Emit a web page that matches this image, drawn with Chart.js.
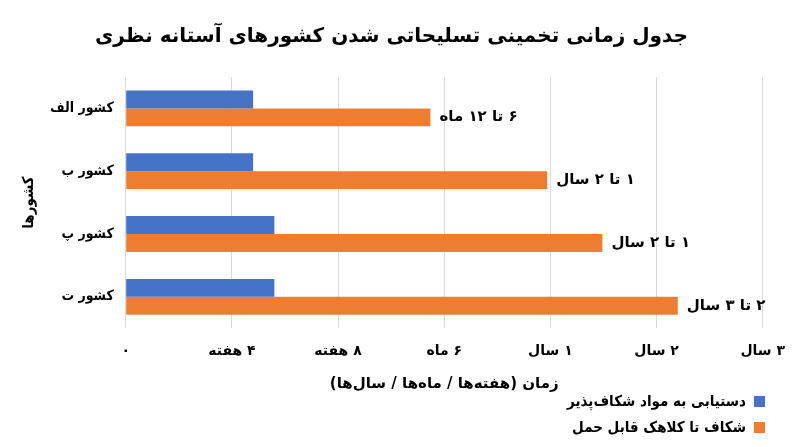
<!DOCTYPE html>
<html lang="fa">
<head>
<meta charset="utf-8">
<script src="https://cdn.jsdelivr.net/npm/chart.js@4.4.1/dist/chart.umd.min.js"></script>
<style>
  html, body { margin: 0; padding: 0; background: #fff; }
  #wrap { position: relative; width: 800px; height: 447px; }
  canvas { direction: rtl; }
  #legend {
    position: absolute; right: 35px; top: 388px;
    direction: rtl; font: bold 15px "DejaVu Sans Condensed", "DejaVu Sans", sans-serif; color: #000;
  }
  #legend div { display: flex; align-items: center; height: 26px; }
  #legend span.box { width: 11px; height: 11px; margin-left: 8px; display: inline-block; }
</style>
</head>
<body>
<div id="wrap">
  <canvas id="timelineChart" width="800" height="447"></canvas>
  <div id="legend"></div>
</div>
<script>
const categories = ["کشور الف", "کشور ب", "کشور پ", "کشور ت"];
const materialValues = [1.2, 1.2, 1.4, 1.4];
const warheadValues = [2.87, 3.97, 4.49, 5.2];
const warheadLabels = ["۶ تا ۱۲ ماه", "۱ تا ۲ سال", "۱ تا ۲ سال", "۲ تا ۳ سال"];
const tickLabels = ["۰", "۴ هفته", "۸ هفته", "۶ ماه", "۱ سال", "۲ سال", "۳ سال"];
const seriesNames = ["دستیابی به مواد شکاف‌پذیر", "شکاف تا کلاهک قابل حمل"];
const seriesColors = ["#4472C4", "#ED7D31"];

const FONT = "'DejaVu Sans', sans-serif";
const NARROW = "'DejaVu Sans Condensed', 'DejaVu Sans', sans-serif";

// labels at the end of the orange bars
const barLabelPlugin = {
  id: "barLabels",
  afterDatasetsDraw(chart) {
    const ctx = chart.ctx;
    const meta = chart.getDatasetMeta(1);
    ctx.save();
    ctx.font = "bold 15px " + FONT;
    ctx.fillStyle = "#000";
    ctx.textAlign = "left";
    ctx.textBaseline = "middle";
    meta.data.forEach((bar, i) => {
      ctx.fillText(warheadLabels[i], bar.x + 9, bar.y);
    });
    ctx.restore();
  },
};

const ctx = document.getElementById("timelineChart");
new Chart(ctx, {
  type: "bar",
  data: {
    labels: categories,
    datasets: [
      {
        label: seriesNames[0],
        data: materialValues,
        backgroundColor: seriesColors[0],
        barPercentage: 1,
        categoryPercentage: 0.57,
      },
      {
        label: seriesNames[1],
        data: warheadValues,
        backgroundColor: seriesColors[1],
        barPercentage: 1,
        categoryPercentage: 0.57,
      },
    ],
  },
  options: {
    indexAxis: "y",
    responsive: false,
    animation: false,
    devicePixelRatio: 1,
    layout: { padding: { left: 20, right: 37, top: 0, bottom: 54 } },
    plugins: {
      legend: { display: false },
      tooltip: { enabled: false },
      title: {
        display: true,
        text: "جدول زمانی تخمینی تسلیحاتی شدن کشورهای آستانه نظری",
        color: "#000",
        font: { family: FONT, size: 20, weight: "bold" },
        padding: { top: 25, bottom: 28 },
      },
    },
    scales: {
      x: {
        min: 0,
        max: 6,
        ticks: {
          stepSize: 1,
          color: "#000",
          font: { family: FONT, size: 14, weight: "bold" },
          padding: 15,
          callback: (v) => tickLabels[v],
        },
        grid: { color: "#d9d9d9", drawTicks: false },
        border: { display: false },
        title: {
          display: true,
          text: "زمان (هفته‌ها / ماه‌ها / سال‌ها)",
          color: "#000",
          font: { family: FONT, size: 15, weight: "bold" },
          padding: { top: 0, bottom: 0 },
        },
      },
      y: {
        grid: { display: false, drawTicks: false },
        border: { display: false },
        ticks: {
          color: "#000",
          font: { family: NARROW, size: 14, weight: "bold" },
          padding: 12,
        },
        title: {
          display: true,
          text: "کشورها",
          color: "#000",
          font: { family: NARROW, size: 15, weight: "bold" },
          padding: { top: 0, bottom: 0 },
        },
      },
    },
  },
  plugins: [barLabelPlugin],
});

const legendEl = document.getElementById("legend");
seriesNames.forEach((name, i) => {
  const row = document.createElement("div");
  const box = document.createElement("span");
  box.className = "box";
  box.style.background = seriesColors[i];
  row.appendChild(box);
  row.appendChild(document.createTextNode(name));
  legendEl.appendChild(row);
});
</script>
</body>
</html>
